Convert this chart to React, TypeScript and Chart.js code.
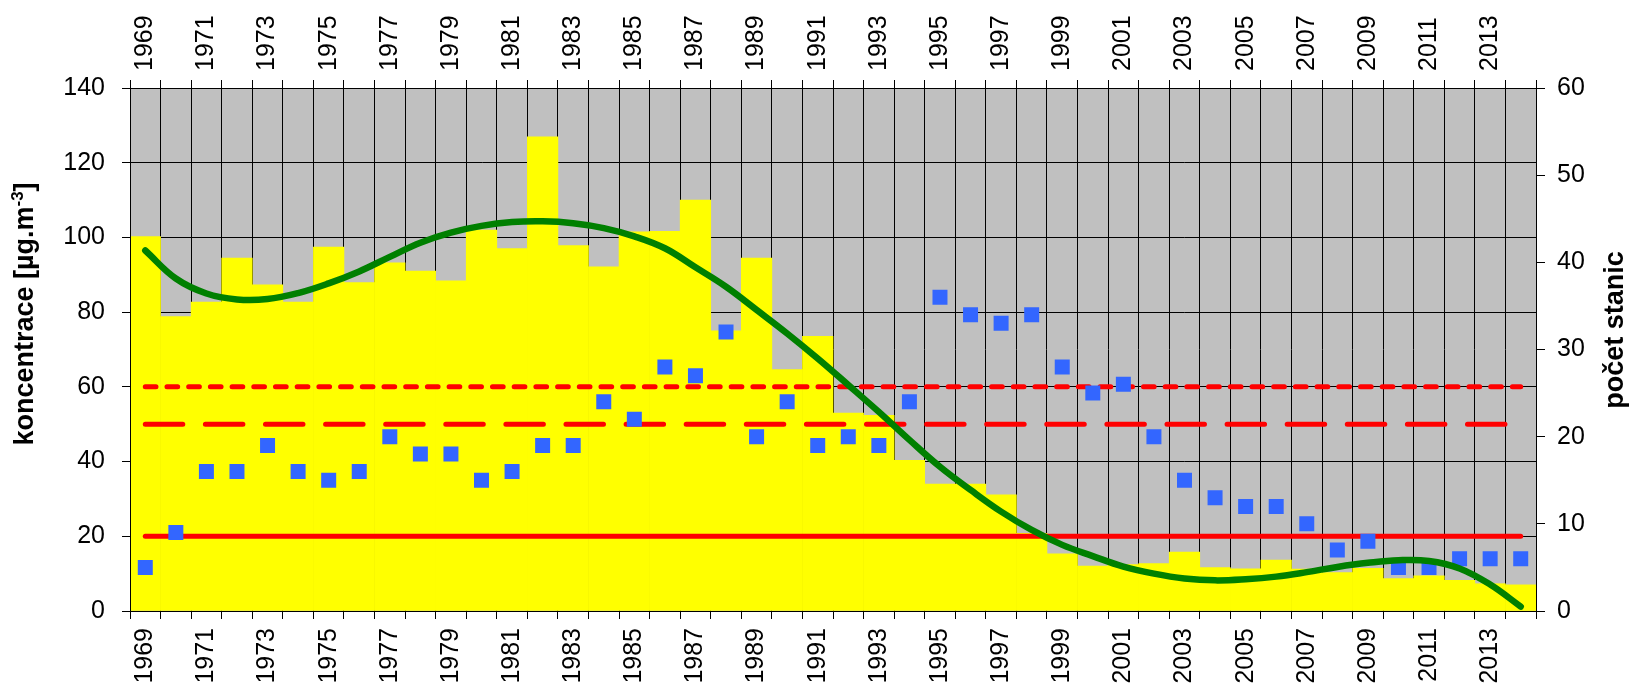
import React, { useEffect, useRef } from 'react';
import { Chart, registerables } from 'chart.js';

Chart.register(...registerables);

// ---------- data ----------
const years = [
  '1969', '1970', '1971', '1972', '1973', '1974', '1975', '1976', '1977', '1978',
  '1979', '1980', '1981', '1982', '1983', '1984', '1985', '1986', '1987', '1988',
  '1989', '1990', '1991', '1992', '1993', '1994', '1995', '1996', '1997', '1998',
  '1999', '2000', '2001', '2002', '2003', '2004', '2005', '2006', '2007', '2008',
  '2009', '2010', '2011', '2012', '2013', '2014',
];

// koncentrace [µg.m-3] (left axis, yellow bars)
const concentration = [
  100.2, 78.8, 82.7, 94.5, 87.3, 82.7, 97.4, 87.9, 93.2, 91.0,
  88.4, 102.0, 97.0, 126.9, 97.8, 92.1, 101.5, 101.6, 110.0, 75.0,
  94.5, 64.6, 73.5, 53.0, 52.4, 40.3, 34.0, 34.0, 31.1, 20.8,
  15.3, 12.0, 12.4, 12.7, 15.8, 11.6, 11.3, 13.6, 11.2, 10.3,
  11.4, 8.7, 9.4, 8.2, 7.3, 7.0,
];

// počet stanic (right axis, blue squares)
const stations = [
  5, 9, 16, 16, 19, 16, 15, 16, 20, 18,
  18, 15, 16, 19, 19, 24, 22, 28, 27, 32,
  20, 24, 19, 20, 19, 24, 36, 34, 33, 34,
  28, 25, 26, 20, 15, 13, 12, 12, 10, 7,
  8, 5, 5, 6, 6, 6,
];

// trend curve (green)
const trend = [
  96.5, 89.0, 85.0, 83.4, 83.5, 85.1, 87.7, 90.9, 94.8, 98.6,
  101.3, 103.1, 104.1, 104.3, 103.8, 102.5, 100.3, 97.1, 92.0, 86.8,
  80.6, 74.3, 67.6, 60.5, 53.3, 45.8, 38.6, 32.4, 26.6, 21.7,
  17.7, 14.7, 11.9, 10.0, 8.7, 8.2, 8.5, 9.2, 10.4, 11.8,
  12.9, 13.6, 13.4, 11.4, 7.1, 1.2,
];

// limit lines (left axis)
const limitDotted = 60;
const limitDashed = 50;
const limitSolid = 20;

const leftTicks = { min: 0, max: 140, step: 20 };
const rightTicks = { min: 0, max: 60, step: 10 };

const leftTitle = 'koncentrace [µg.m';
const leftTitleSup = '-3';
const leftTitleEnd = ']';
const rightTitle = 'počet stanic';

// ---------- styling ----------
const FONT = "'Liberation Sans', Arial, Helvetica, sans-serif";
const TICK_SIZE = 25;
const TITLE_SIZE = 27;
const SUP_SIZE = 17;

const W = 1631;
const H = 691;

const bgPlugin = {
  id: 'plotBg',
  beforeDraw(chart: any) {
    const { ctx, chartArea: a } = chart;
    ctx.save();
    ctx.fillStyle = '#C0C0C0';
    ctx.fillRect(a.left, a.top, a.right - a.left, a.bottom - a.top);
    ctx.restore();
  },
};

const titlePlugin = {
  id: 'axisTitles',
  afterDraw(chart: any) {
    const ctx = chart.ctx as CanvasRenderingContext2D;
    const a = chart.chartArea;
    ctx.save();
    ctx.fillStyle = '#000';
    ctx.textBaseline = 'alphabetic';
    ctx.textAlign = 'left';
    const mainFont = `bold ${TITLE_SIZE}px ${FONT}`;
    const supFont = `bold ${SUP_SIZE}px ${FONT}`;

    // left title
    ctx.font = mainFont;
    const w1 = ctx.measureText(leftTitle).width;
    const w3 = ctx.measureText(leftTitleEnd).width;
    ctx.font = supFont;
    const w2 = ctx.measureText(leftTitleSup).width;
    const total = w1 + w2 + w3;
    ctx.save();
    ctx.translate(33, 314);
    ctx.rotate(-Math.PI / 2);
    let x = -total / 2;
    ctx.font = mainFont;
    ctx.fillText(leftTitle, x, 0);
    x += w1;
    ctx.font = supFont;
    ctx.fillText(leftTitleSup, x, -10);
    x += w2;
    ctx.font = mainFont;
    ctx.fillText(leftTitleEnd, x, 0);
    ctx.restore();

    // right title
    ctx.save();
    ctx.font = mainFont;
    ctx.translate(a.right + 87, 330);
    ctx.rotate(-Math.PI / 2);
    ctx.textAlign = 'center';
    ctx.fillText(rightTitle, 0, 0);
    ctx.restore();

    ctx.restore();
  },
};

export default function App() {
  const ref = useRef<HTMLCanvasElement | null>(null);

  useEffect(() => {
    if (!ref.current) return;
    const tickFont = { family: FONT, size: TICK_SIZE };
    const everyOther = (_v: any, i: number) => (i % 2 === 0 ? years[i] : '');

    const chart = new Chart(ref.current, {
      type: 'bar',
      data: {
        labels: years,
        datasets: [
          {
            type: 'line',
            label: 'trend',
            data: trend,
            borderColor: '#008000',
            borderWidth: 6.5,
            borderCapStyle: 'round',
            tension: 0.4,
            pointRadius: 0,
            fill: false,
            yAxisID: 'y',
            order: 0,
          } as any,
          {
            type: 'line',
            label: 'počet stanic',
            data: stations,
            showLine: false,
            pointStyle: 'rect',
            pointRadius: 10.6,
            pointBackgroundColor: '#3366FF',
            pointBorderWidth: 0,
            yAxisID: 'y2',
            order: 1,
          } as any,
          {
            type: 'line',
            label: 'limit 60',
            data: years.map(() => limitDotted),
            borderColor: '#FF0000',
            borderWidth: 5,
            borderDash: [10.7, 11],
            borderCapStyle: 'round',
            pointRadius: 0,
            yAxisID: 'y',
            order: 2,
          } as any,
          {
            type: 'line',
            label: 'limit 50',
            data: years.map(() => limitDashed),
            borderColor: '#FF0000',
            borderWidth: 5,
            borderDash: [37.5, 22.6],
            borderCapStyle: 'round',
            pointRadius: 0,
            yAxisID: 'y',
            order: 2,
          } as any,
          {
            type: 'line',
            label: 'limit 20',
            data: years.map(() => limitSolid),
            borderColor: '#FF0000',
            borderWidth: 5,
            borderCapStyle: 'round',
            pointRadius: 0,
            yAxisID: 'y',
            order: 2,
          } as any,
          {
            type: 'bar',
            label: 'koncentrace',
            data: concentration,
            backgroundColor: '#FFFF00',
            borderWidth: 0,
            barPercentage: 1,
            categoryPercentage: 1,
            yAxisID: 'y',
            order: 3,
          } as any,
        ],
      },
      options: {
        responsive: false,
        animation: false,
        devicePixelRatio: 1,
        events: [],
        layout: { padding: 0 },
        plugins: {
          legend: { display: false },
          tooltip: { enabled: false },
          title: { display: false },
        },
        scales: {
          x: {
            type: 'category',
            position: 'bottom',
            offset: true,
            grid: { offset: true, color: '#000', lineWidth: 1, tickLength: 8 },
            border: { color: '#000', width: 1, z: 1 },
            ticks: {
              autoSkip: false,
              maxRotation: 90,
              minRotation: 90,
              padding: 9,
              color: '#000',
              font: tickFont,
              callback: everyOther,
            },
            afterFit: (s: any) => { s.height = H - 611; },
          },
          x2: {
            type: 'category',
            position: 'top',
            offset: true,
            grid: { offset: true, color: '#000', lineWidth: 1, tickLength: 8, drawOnChartArea: false },
            border: { color: '#000', width: 1, z: 1 },
            ticks: {
              autoSkip: false,
              maxRotation: 90,
              minRotation: 90,
              padding: 9,
              labelOffset: 30,
              color: '#000',
              font: tickFont,
              callback: everyOther,
            },
            afterFit: (s: any) => { s.height = 88; },
          },
          y: {
            position: 'left',
            min: leftTicks.min,
            max: leftTicks.max,
            grid: { color: '#000', lineWidth: 1, tickLength: 8 },
            border: { color: '#000', width: 1, z: 1 },
            ticks: { stepSize: leftTicks.step, padding: 17, color: '#000', font: tickFont },
            afterFit: (s: any) => { s.width = 130; },
          },
          y2: {
            position: 'right',
            min: rightTicks.min,
            max: rightTicks.max,
            grid: { color: '#000', lineWidth: 1, tickLength: 9, drawOnChartArea: false },
            border: { color: '#000', width: 1, z: 1 },
            ticks: { stepSize: rightTicks.step, padding: 12, color: '#000', font: tickFont },
            afterFit: (s: any) => { s.width = W - 1536; },
          },
        },
      } as any,
      plugins: [bgPlugin, titlePlugin],
    });

    return () => chart.destroy();
  }, []);

  return (
    <div style={{ position: 'absolute', left: 0, top: 0, width: W, height: H, background: '#fff' }}>
      <canvas ref={ref} width={W} height={H} style={{ width: W, height: H, display: 'block' }} />
    </div>
  );
}
